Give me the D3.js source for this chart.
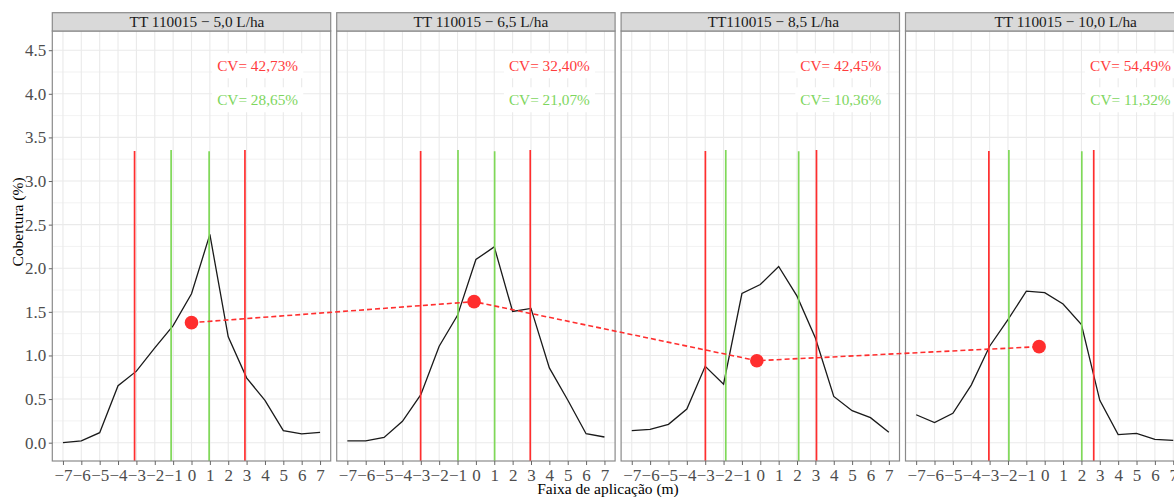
<!DOCTYPE html>
<html><head><meta charset="utf-8">
<script src="https://cdn.jsdelivr.net/npm/d3@7"></script>
<style>
body{margin:0;background:#fff}
svg{display:block}
text{font-family:"Liberation Serif","Times New Roman",serif}
</style>
</head><body>
<svg id="c" width="1174" height="497"></svg>
<script>
// ---------------- data ----------------
const panelTitles = ["TT 110015 \u2212 5,0 L/ha", "TT 110015 \u2212 6,5 L/ha", "TT110015 \u2212 8,5 L/ha", "TT 110015 \u2212 10,0 L/ha"];
const xPositions = [-7,-6,-5,-4,-3,-2,-1,0,1,2,3,4,5,6,7];
const cover1 = [0.00, 0.02, 0.115, 0.654, 0.82, 1.087, 1.343, 1.707, 2.388, 1.213, 0.743, 0.486, 0.138, 0.10, 0.118];
const cover2 = [0.02, 0.02, 0.06, 0.245, 0.55, 1.106, 1.46, 2.10, 2.245, 1.504, 1.54, 0.857, 0.49, 0.103, 0.065];
const cover3 = [0.138, 0.153, 0.21, 0.386, 0.876, 0.67, 1.71, 1.814, 2.02, 1.68, 1.20, 0.53, 0.367, 0.287, 0.12];
const cover4 = [0.32, 0.23, 0.337, 0.66, 1.106, 1.41, 1.737, 1.72, 1.59, 1.355, 0.486, 0.092, 0.107, 0.038, 0.027];
const coverSeries = [cover1, cover2, cover3, cover4];

const redLimits   = [[-3.10, 2.91], [-3.01, 2.96], [-2.99, 3.06], [-3.04, 2.67]];
const greenLimits = [[-1.11, 0.96], [-0.975, 1.02], [-1.88, 2.09], [-1.95, 2.02]];
const redTop   = [3.345, 3.355];
const greenTop = [3.355, 3.34];

const cvRed   = ["CV= 42,73%", "CV= 32,40%", "CV= 42,45%", "CV= 54,49%"];
const cvGreen = ["CV= 28,65%", "CV= 21,07%", "CV= 10,36%", "CV= 11,32%"];
const cvLabelX = [3.6, 4.0, 4.38, 4.67];
const cvRedY = 4.32, cvGreenY = 3.93;

const meanX = [0.0, -0.10, -0.19, -0.305];
const meanY = [1.376, 1.617, 0.940, 1.101];

const xTicks = [-7,-6,-5,-4,-3,-2,-1,0,1,2,3,4,5,6,7];
const yTicks = [0,0.5,1,1.5,2,2.5,3,3.5,4,4.5];
const yMinor = [0.25,0.75,1.25,1.75,2.25,2.75,3.25,3.75,4.25];

// ---------------- layout ----------------
const W = 1174, H = 497;
const panelLeft0 = 52.3, panelW = 278.4, panelStep = 284.4;
const panelTop = 31, panelBottom = 461, stripTop = 12.7;
const stripTextOffset = [5.5, 5, 13, 21];
const RED = "#FF2E2E", GREEN = "#7FD858";
const RED_TXT = "#FF3D3D", GREEN_TXT = "#7ED65E";
const TICK_FS = 17;

const svg = d3.select("#c");
const y = d3.scaleLinear().domain([-0.21, 4.72]).range([panelBottom, panelTop]);
const xs = panelTitles.map((t, i) => {
  const l = panelLeft0 + i * panelStep;
  return d3.scaleLinear().domain([-7.58, 7.58]).range([l, l + panelW]);
});

panelTitles.forEach((title, i) => {
  const x = xs[i];
  const l = x.range()[0], r = x.range()[1];
  const g = svg.append("g");
  // grid
  g.selectAll(".ymin").data(yMinor).join("line")
    .attr("x1", l).attr("x2", r).attr("y1", d => y(d)).attr("y2", d => y(d))
    .attr("stroke", "#EFEFEF").attr("stroke-width", 0.8);
  g.selectAll(".ymaj").data(yTicks).join("line")
    .attr("x1", l).attr("x2", r).attr("y1", d => y(d)).attr("y2", d => y(d))
    .attr("stroke", "#EAEAEA").attr("stroke-width", 1.1);
  g.selectAll(".xmaj").data(xTicks).join("line")
    .attr("x1", d => x(d)).attr("x2", d => x(d)).attr("y1", panelTop).attr("y2", panelBottom)
    .attr("stroke", "#EAEAEA").attr("stroke-width", 1.1);

  // CV labels with white boxes
  [[cvRed[i], cvRedY, RED_TXT], [cvGreen[i], cvGreenY, GREEN_TXT]].forEach(([txt, yy, col]) => {
    const lg = g.append("g");
    const rect = lg.append("rect").attr("fill", "#fff");
    const t = lg.append("text").attr("x", x(cvLabelX[i])).attr("y", y(yy))
      .attr("dy", "0.35em").attr("text-anchor", "middle")
      .attr("font-size", 15.3).attr("fill", col).text(txt);
    const bb = t.node().getBBox();
    rect.attr("x", bb.x - 5).attr("y", bb.y - 4).attr("width", bb.width + 10).attr("height", bb.height + 8);
  });

  // coverage curve
  const line = d3.line().x((d, k) => x(xPositions[k])).y(d => y(d));
  g.append("path").datum(coverSeries[i]).attr("d", line)
    .attr("fill", "none").attr("stroke", "#1A1A1A").attr("stroke-width", 1.3);

  // vertical limit segments
  greenLimits[i].forEach((v, k) => {
    g.append("line").attr("x1", x(v)).attr("x2", x(v)).attr("y1", panelBottom).attr("y2", y(greenTop[k]))
      .attr("stroke", GREEN).attr("stroke-width", 1.7);
  });
  redLimits[i].forEach((v, k) => {
    g.append("line").attr("x1", x(v)).attr("x2", x(v)).attr("y1", panelBottom).attr("y2", y(redTop[k]))
      .attr("stroke", RED).attr("stroke-width", 1.7);
  });

  // panel border
  g.append("rect").attr("x", l).attr("y", panelTop).attr("width", panelW).attr("height", panelBottom - panelTop)
    .attr("fill", "none").attr("stroke", "#8A8A8A").attr("stroke-width", 1.2);
  // strip
  g.append("rect").attr("x", l).attr("y", stripTop).attr("width", panelW).attr("height", panelTop - stripTop)
    .attr("fill", "#D9D9D9").attr("stroke", "#8A8A8A").attr("stroke-width", 1.2);
  g.append("text").attr("x", (l + r) / 2 + stripTextOffset[i]).attr("y", (stripTop + panelTop) / 2)
    .attr("dy", "0.36em").attr("text-anchor", "middle").attr("font-size", 15.3).attr("fill", "#1A1A1A").text(title);

  // x axis
  const ax = svg.append("g").attr("transform", `translate(0,${panelBottom})`)
    .call(d3.axisBottom(x).tickValues(xTicks).tickSize(4).tickPadding(4).tickFormat(d3.format("d")));
  ax.select(".domain").remove();
  ax.selectAll(".tick line").attr("stroke", "#666").attr("stroke-width", 1);
  ax.selectAll(".tick text").attr("font-size", TICK_FS).attr("fill", "#4D4D4D")
    .attr("font-family", '"Liberation Serif", serif');
});

// y axis (first panel)
const ay = svg.append("g").attr("transform", `translate(${panelLeft0},0)`)
  .call(d3.axisLeft(y).tickValues(yTicks).tickSize(3.5).tickPadding(2.5).tickFormat(d3.format(".1f")));
ay.select(".domain").remove();
ay.selectAll(".tick line").attr("stroke", "#666").attr("stroke-width", 1);
ay.selectAll(".tick text").attr("font-size", TICK_FS).attr("fill", "#4D4D4D")
  .attr("font-family", '"Liberation Serif", serif');

// connecting dashed line & mean points
const pts = meanX.map((v, i) => [xs[i](v), y(meanY[i])]);
svg.append("path").datum(pts).attr("d", d3.line())
  .attr("fill", "none").attr("stroke", RED).attr("stroke-width", 1.6).attr("stroke-dasharray", "5,3");
svg.selectAll(".mean").data(pts).join("circle")
  .attr("cx", d => d[0]).attr("cy", d => d[1]).attr("r", 6.8).attr("fill", RED);

// axis titles
svg.append("text").attr("x", 608).attr("y", 494).attr("text-anchor", "middle")
  .attr("font-size", 15.5).attr("fill", "#000").text("Faixa de aplica\u00e7\u00e3o (m)");
svg.append("text").attr("transform", "translate(18,222) rotate(-90)").attr("dy", "0.35em")
  .attr("text-anchor", "middle").attr("font-size", 15.5).attr("fill", "#000").text("Cobertura (%)");
</script>
</body></html>
